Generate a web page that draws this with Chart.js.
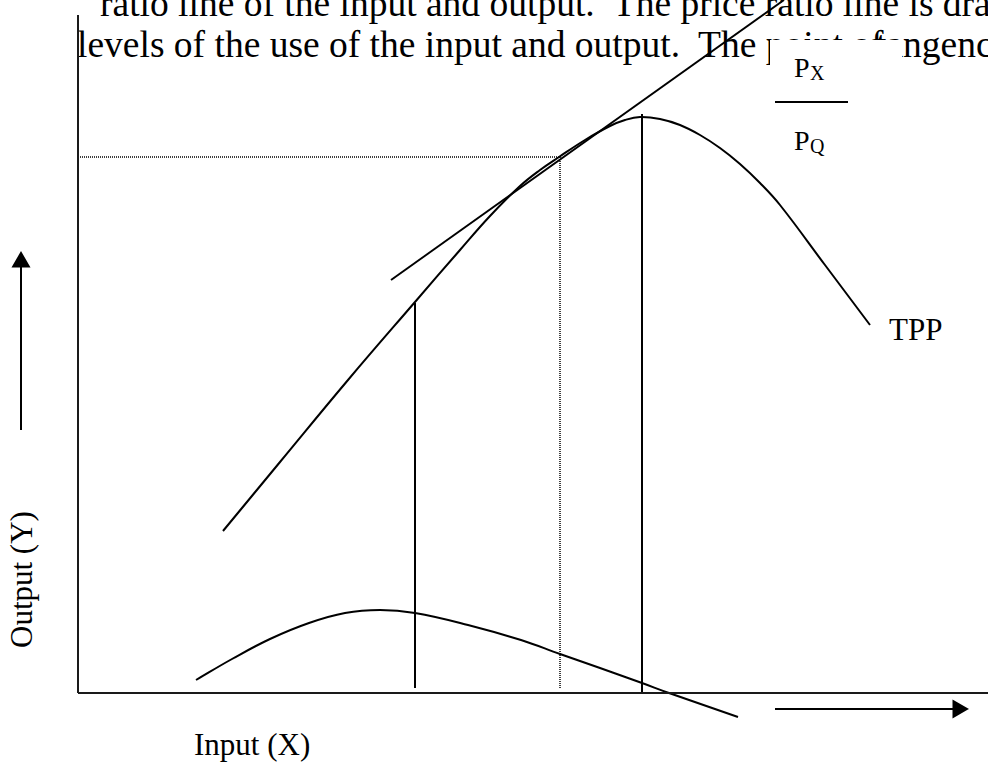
<!DOCTYPE html>
<html>
<head>
<meta charset="utf-8">
<script src="https://cdn.jsdelivr.net/npm/chart.js@4.4.1/dist/chart.umd.min.js"></script>
<style>
    html, body { margin: 0; padding: 0; background: #fff; overflow: hidden; }
    #wrap {
        position: relative; width: 988px; height: 765px; overflow: hidden;
        font-family: "Liberation Serif", "Times New Roman", serif; color: #000;
    }
    .t { position: absolute; white-space: pre; line-height: 1; z-index: 1; }
    .para { font-size: 37.5px; }
    .lbl { font-size: 31px; }
    #fracBox { position: absolute; left: 770px; top: 40px; width: 132px; height: 125px; background: #fff; z-index: 2; }
    .frac { position: absolute; line-height: 1; z-index: 2; white-space: pre; }
    #fracBar { position: absolute; left: 775px; top: 101px; width: 73px; height: 2px; background: #000; z-index: 2; }
    #chart { position: absolute; left: 0; top: 0; z-index: 3; }
    #outputLabel { transform-origin: 0 0; transform: translate(6px, 648px) rotate(-90deg); left: 0; top: 0; }
</style>
</head>
<body>
<div id="wrap">
    <!-- page text behind the diagram -->
    <div class="t para" style="left:100px; top:-15.4px;">ratio line of the input and output.  The price ratio line is drawn tangent</div>
    <div class="t para" style="left:77px; top:25.6px;">levels of the use of the input and output.  The point of</div>
    <div class="t para" style="left:876px; top:25.6px;">tangency</div>

    <!-- text box with the price ratio -->
    <div id="fracBox"></div>
    <div class="frac" style="left:794px; top:53.5px; font-size:28px;">P</div>
    <div class="frac" style="left:810px; top:63px; font-size:20px;">X</div>
    <div id="fracBar"></div>
    <div class="frac" style="left:794px; top:126.5px; font-size:28px;">P</div>
    <div class="frac" style="left:810px; top:136px; font-size:20px;">Q</div>

    <div class="t lbl" style="left:889px; top:314px;">TPP</div>
    <div class="t lbl" style="left:194px; top:729px;">Input (X)</div>
    <div class="t lbl" id="outputLabel">Output (Y)</div>

    <canvas id="chart" width="988" height="765"></canvas>
</div>

<script>
// Total physical product curve (input X, output Y)
const tppInput  = [14.5, 20.2, 27.0, 33.7, 38.2, 41.2, 44.2, 46.2, 48.1, 50.7, 53.2, 54.7, 56.2, 58.2, 60.2, 62.2, 64.2, 66.2, 68.2, 70.2, 74.7, 79.2];
const tppOutput = [16.2, 23.1, 31.3, 39.1, 44.3, 47.7, 50.7, 52.3, 53.6, 55.3, 56.7, 57.3, 57.6, 57.4, 56.8, 55.8, 54.5, 52.9, 51.0, 48.8, 42.8, 36.8];

// Lower curve (marginal product), dips below the axis at the right
const mppInput  = [11.8, 15.4, 19.2, 23.1, 26.7, 30.2, 33.7, 39.0, 44.3, 48.2, 52.2, 56.4, 59.1, 66.0];
const mppOutput = [1.3, 3.4, 5.4, 7.0, 8.0, 8.3, 8.0, 6.8, 5.3, 3.9, 2.5, 1.0, 0.0, -2.4];

// Price ratio line (Px / Pq)
const priceLineX = [31.3, 70.6];
const priceLineY = [41.3, 69.3];

// Vertical guide lines: x position, bottom, top
const guideX      = [33.7, 56.4];
const guideBottom = [0.5, 0.1];
const guideTop    = [39.0, 57.9];

// Dotted guide to the tangency level
const dottedX = 48.2;
const dottedY = 53.6;

// Axes and direction arrows
const axisTopY = 67.8;
const axisRightX = 91.0;
const upArrowX = -5.7;
const upArrowY = [26.3, 43.1];
const rightArrowY = -1.6;
const rightArrowX = [69.7, 88.0];

function zip(xs, ys) {
    return xs.map((x, i) => ({ x: x, y: ys[i] }));
}

function lineSet(data, extra) {
    return Object.assign({
        data: data,
        showLine: true,
        borderColor: '#000',
        backgroundColor: '#000',
        borderWidth: 2,
        pointRadius: 0,
        tension: 0,
        fill: false
    }, extra || {});
}

const datasets = [
    // axes
    lineSet([{ x: 0, y: 0 }, { x: 0, y: axisTopY }], { borderColor: '#1a1a1a' }),
    lineSet([{ x: 0, y: 0 }, { x: axisRightX, y: 0 }], { borderColor: '#1a1a1a' }),
    // curves
    lineSet(zip(tppInput, tppOutput), { tension: 0.4 }),
    lineSet(zip(mppInput, mppOutput), { tension: 0.4 }),
    lineSet(zip(priceLineX, priceLineY)),
    // dotted guides
    lineSet([{ x: 0, y: dottedY }, { x: dottedX, y: dottedY }], { borderWidth: 1.5, borderDash: [1, 1] }),
    lineSet([{ x: dottedX, y: 0.5 }, { x: dottedX, y: dottedY }], { borderWidth: 1.5, borderDash: [1, 1] }),
    // arrows
    lineSet(zip([upArrowX, upArrowX], upArrowY), {
        pointRadius: [0, 9], pointStyle: 'triangle', rotation: 0
    }),
    lineSet(zip(rightArrowX, [rightArrowY, rightArrowY]), {
        pointRadius: [0, 9], pointStyle: 'triangle', rotation: 90
    })
];

guideX.forEach((gx, i) => {
    datasets.push(lineSet([{ x: gx, y: guideBottom[i] }, { x: gx, y: guideTop[i] }]));
});

new Chart(document.getElementById('chart'), {
    type: 'scatter',
    data: { datasets: datasets },
    options: {
        responsive: false,
        animation: false,
        devicePixelRatio: 1,
        layout: { padding: 0, autoPadding: false },
        scales: {
            x: { type: 'linear', display: false, min: -7.8, max: 91.0 },
            y: { type: 'linear', display: false, min: -7.2, max: 69.3 }
        },
        plugins: {
            legend: { display: false },
            tooltip: { enabled: false }
        }
    }
});
</script>
</body>
</html>
